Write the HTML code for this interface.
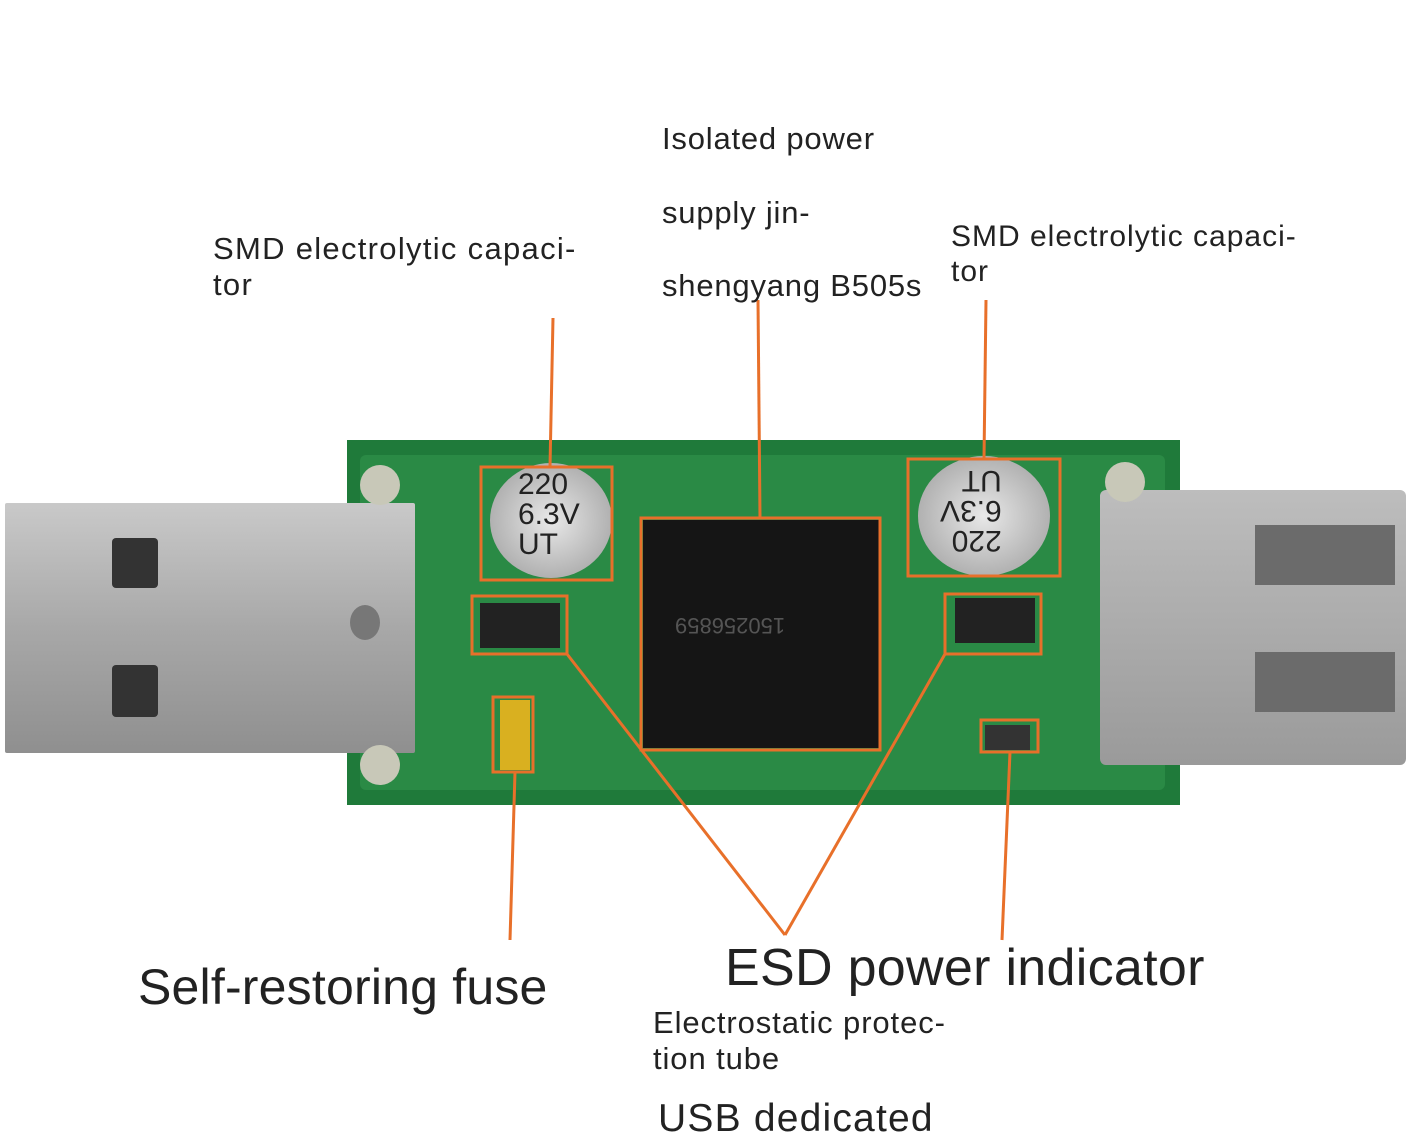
<!DOCTYPE html>
<html><head><meta charset="utf-8"><style>
body{margin:0;width:1410px;height:1138px;background:#fff;position:relative;overflow:hidden;font-family:"Liberation Sans",sans-serif;color:#222}
.a{position:absolute}
.t{position:absolute;white-space:nowrap}
</style></head><body>
<div class="a" style="left:347px;top:440px;width:833px;height:365px;background:#1f7a3a"></div>
<div class="a" style="left:360px;top:455px;width:805px;height:335px;background:#2a8a45;border-radius:6px"></div>
<div class="a" style="left:5px;top:503px;width:410px;height:250px;background:linear-gradient(180deg,#c9c9c9,#a8a8a8 50%,#8f8f8f);border-radius:2px"></div>
<div class="a" style="left:112px;top:538px;width:46px;height:50px;background:#333;border-radius:4px"></div>
<div class="a" style="left:112px;top:665px;width:46px;height:52px;background:#333;border-radius:4px"></div>
<div class="a" style="left:350px;top:605px;width:30px;height:35px;background:#777;border-radius:50%"></div>
<div class="a" style="left:1100px;top:490px;width:306px;height:275px;background:linear-gradient(180deg,#bdbdbd,#9a9a9a);border-radius:6px"></div>
<div class="a" style="left:1255px;top:525px;width:140px;height:60px;background:#6b6b6b"></div>
<div class="a" style="left:1255px;top:652px;width:140px;height:60px;background:#6b6b6b"></div>
<div class="a" style="left:360px;top:465px;width:40px;height:40px;border-radius:50%;background:#c8c8b8"></div>
<div class="a" style="left:360px;top:745px;width:40px;height:40px;border-radius:50%;background:#c8c8b8"></div>
<div class="a" style="left:1105px;top:462px;width:40px;height:40px;border-radius:50%;background:#c8c8b8"></div>
<div class="a" style="left:490px;top:463px;width:122px;height:115px;border-radius:50%;background:radial-gradient(#e8e8e8,#9a9a9a)"></div>
<div class="t" style="left:518px;top:470px;font-size:30px;line-height:30px;color:#222">220<br>6.3V<br>UT</div>
<div class="a" style="left:918px;top:456px;width:132px;height:120px;border-radius:50%;background:radial-gradient(#e8e8e8,#9a9a9a)"></div>
<div class="t" style="left:940px;top:465px;font-size:30px;line-height:30px;color:#222;transform:rotate(180deg)">220<br>6.3V<br>UT</div>
<div class="a" style="left:643px;top:520px;width:236px;height:228px;background:#151515"></div>
<div class="t" style="left:675px;top:612px;font-size:22px;color:#555;transform:rotate(180deg)">150256859</div>
<div class="a" style="left:480px;top:603px;width:80px;height:45px;background:#222"></div>
<div class="a" style="left:955px;top:598px;width:80px;height:45px;background:#222"></div>
<div class="a" style="left:500px;top:700px;width:30px;height:70px;background:#d9b020"></div>
<div class="a" style="left:985px;top:725px;width:45px;height:25px;background:#333"></div>
<svg class="a" style="left:0;top:0" width="1410" height="1138">
<g fill="none" stroke="#e8702a" stroke-width="3">
<rect x="481" y="467" width="131" height="113"/>
<rect x="908" y="459" width="152" height="117"/>
<rect x="641" y="518" width="239" height="232"/>
<rect x="472" y="596" width="95" height="58"/>
<rect x="945" y="594" width="96" height="60"/>
<rect x="493" y="697" width="40" height="75"/>
<rect x="981" y="720" width="57" height="32"/>
<line x1="553" y1="318" x2="550" y2="467"/>
<line x1="758" y1="300" x2="760" y2="518"/>
<line x1="986" y1="300" x2="984" y2="459"/>
<line x1="515" y1="772" x2="510" y2="940"/>
<line x1="1010" y1="752" x2="1002" y2="940"/>
<line x1="567" y1="654" x2="785" y2="935"/>
<line x1="945" y1="654" x2="785" y2="935"/>
</g></svg>
<div class="t" style="left:213px;top:231px;font-size:31px;line-height:36px;letter-spacing:1.3px">SMD electrolytic capaci-<br>tor</div>
<div class="t" style="left:662px;top:121px;font-size:31px;letter-spacing:0.8px">Isolated power</div>
<div class="t" style="left:662px;top:195px;font-size:31px;letter-spacing:0.8px">supply jin-</div>
<div class="t" style="left:662px;top:268px;font-size:31px;letter-spacing:0.8px">shengyang B505s</div>
<div class="t" style="left:951px;top:219px;font-size:30px;line-height:35px;letter-spacing:1px">SMD electrolytic capaci-<br>tor</div>
<div class="t" style="left:138px;top:958px;font-size:50px;letter-spacing:0.2px">Self-restoring fuse</div>
<div class="t" style="left:725px;top:938px;font-size:52px;letter-spacing:0.3px">ESD power indicator</div>
<div class="t" style="left:653px;top:1005px;font-size:31px;line-height:36px;letter-spacing:0.9px">Electrostatic protec-<br>tion tube</div>
<div class="t" style="left:658px;top:1097px;font-size:39px;letter-spacing:1.2px">USB dedicated</div>
</body></html>
